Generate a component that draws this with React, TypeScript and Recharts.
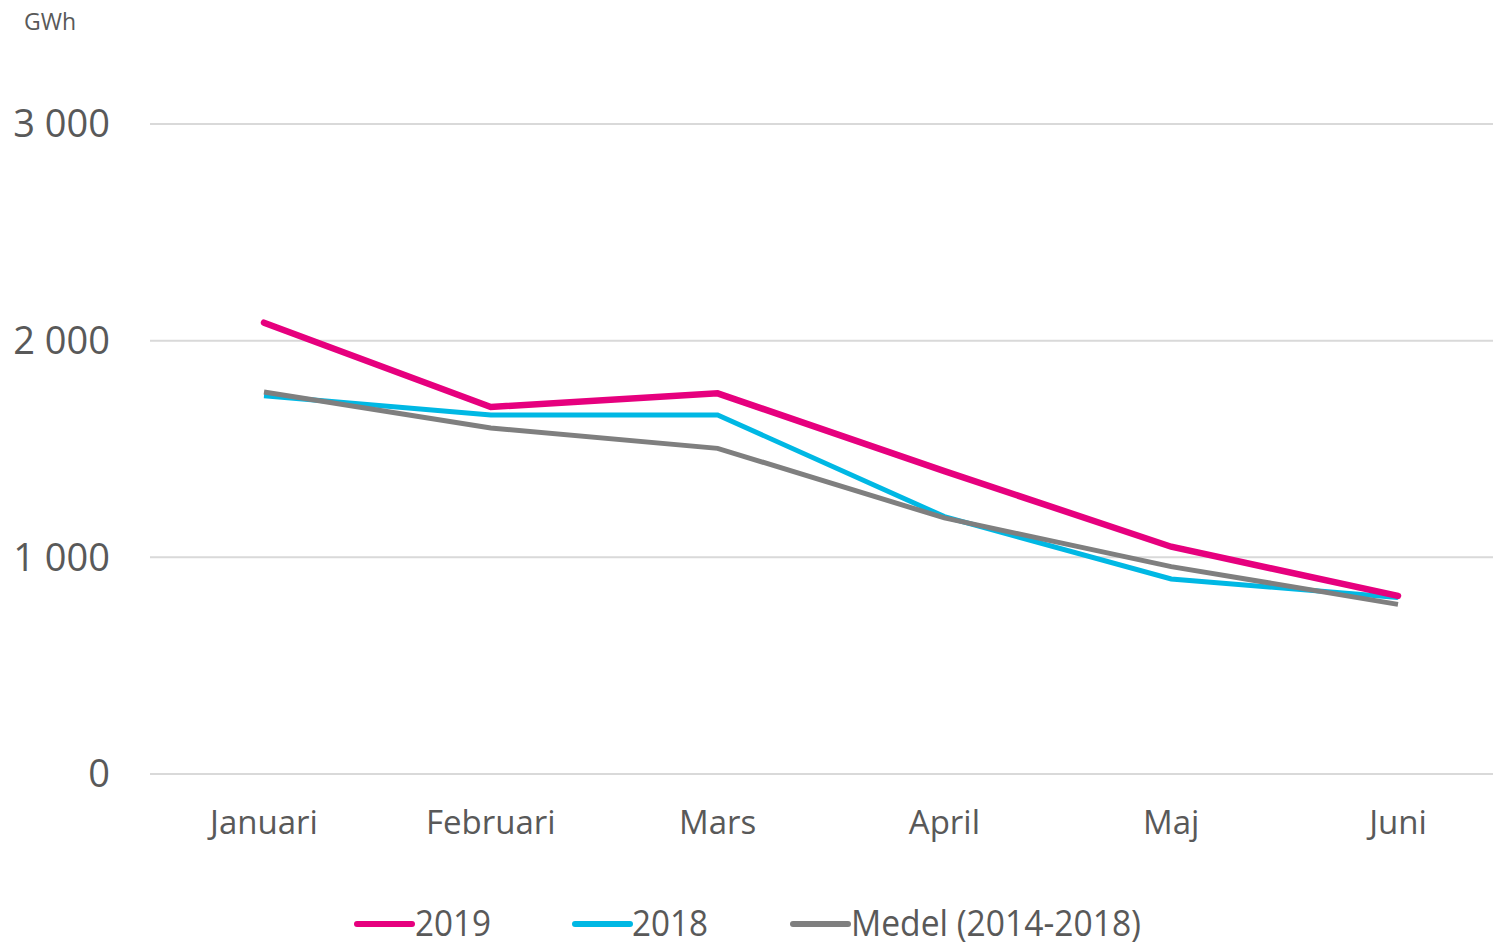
import React from 'react';
import { LineChart, Line, XAxis, YAxis, CartesianGrid } from 'recharts';

const months = ['Januari', 'Februari', 'Mars', 'April', 'Maj', 'Juni'];
const v2019 = [2083, 1694, 1757, 1398, 1049, 822];
const v2018 = [1746, 1657, 1657, 1188, 900, 815];
const medel = [1763, 1597, 1503, 1182, 957, 783];
const yTicks = [0, 1000, 2000, 3000];

const data = months.map((m, i) => ({ month: m, y2019: v2019[i], y2018: v2018[i], medel: medel[i] }));

const fmt = (v: number) => {
  const s = String(v);
  return s.replace(/\B(?=(\d{3})+(?!\d))/g, ' ');
};

const legendItems = [
  { label: '2019', color: '#e6007e', lx: 357, tx: 415, tw: 76 },
  { label: '2018', color: '#00b8e4', lx: 575, tx: 632, tw: 76 },
  { label: 'Medel (2014-2018)', color: '#7f7f7f', lx: 793, tx: 851, tw: 290 },
];

const LegendBox = () => (
  <svg width={1520} height={50} style={{ position: 'absolute', left: 0, top: 899, display: 'block' }}>
    {legendItems.map((it) => (
      <g key={it.label}>
        <line x1={it.lx} x2={it.lx + 55} y1={25} y2={25} stroke={it.color} strokeWidth={6} strokeLinecap="round" />
        <text x={it.tx} y={37} fontSize={36} fill="#595959" fontFamily="Open Sans" textLength={it.tw} lengthAdjust="spacingAndGlyphs">
          {it.label}
        </text>
      </g>
    ))}
  </svg>
);

export default function App() {
  return (
    <div style={{ position: 'absolute', left: 0, top: 0, width: 1520, height: 946, background: '#fff', fontFamily: 'Open Sans' }}>
      <div style={{ position: 'absolute', left: 24, top: 5, fontSize: 23, color: '#595959' }}>GWh</div>
      <LineChart width={1520} height={946} data={data} margin={{ top: 124, right: 9, bottom: 142, left: 0 }}>
        <CartesianGrid vertical={false} stroke="#d9d9d9" strokeWidth={2} />
        <XAxis
          dataKey="month"
          axisLine={false}
          tickLine={false}
          tickSize={0}
          tickMargin={37}
          padding={{ left: 114, right: 113 }}
          tick={{ fill: '#595959', fontSize: 33, fontFamily: 'Open Sans' }}
          interval={0}
        />
        <YAxis
          width={150}
          domain={[0, 3000]}
          ticks={yTicks}
          tickFormatter={fmt}
          axisLine={false}
          tickLine={false}
          tickSize={0}
          tickMargin={40}
          tick={{ fill: '#595959', fontSize: 38, fontFamily: 'Open Sans' }}
        />
        <Line dataKey="y2018" name="2018" stroke="#00b8e4" strokeWidth={5} dot={false} isAnimationActive={false} />
        <Line dataKey="medel" name="Medel (2014-2018)" stroke="#7f7f7f" strokeWidth={5} dot={false} isAnimationActive={false} />
        <Line dataKey="y2019" name="2019" stroke="#e6007e" strokeWidth={6.5} dot={false} strokeLinecap="round" isAnimationActive={false} />
      </LineChart>
      <LegendBox />
    </div>
  );
}
